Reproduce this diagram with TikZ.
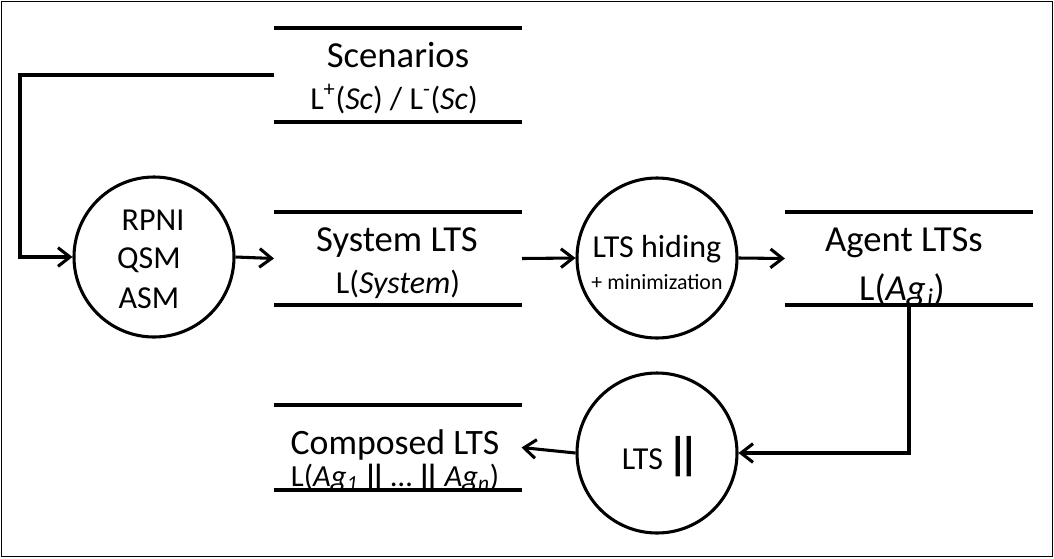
\documentclass[tikz,border=0pt]{standalone}
\usepackage{fontspec}
\setmainfont{Carlito}
\usetikzlibrary{arrows.meta}
\newcommand\fsBig{\fontsize{27.5}{30}\selectfont}
\newcommand\fsComp{\fontsize{26.8}{30}\selectfont}
\newcommand\fsMid{\fontsize{24}{28}\selectfont}
\newcommand\fsCompB{\fontsize{23}{26}\selectfont}
\newcommand\fsSmall{\fontsize{16.4}{19}\selectfont}
\newcommand\bars{|\kern-.22em|}
\begin{document}
\begin{tikzpicture}[x=0.75pt,y=-0.75pt,
  store/.style={draw=none,minimum width=186pt,inner sep=0pt,outer sep=0pt},
  proc/.style={circle,draw,line width=2.3pt,minimum size=120pt,inner sep=0pt},
  sline/.style={line width=3pt},
  flow/.style={line width=2.3pt,-{Straight Barb[length=9pt,width=14pt]}},
  txt/.style={anchor=base,inner sep=0pt,outer sep=0pt}]
\useasboundingbox (0,0) rectangle (1054,558);
\draw[line width=1.2pt] (1.5,1.5) rectangle (1052.5,556.5);
% stores
\node[store,minimum height=70.5pt] (sc) at (398,75) {};
\node[store,minimum height=69.75pt] (sys) at (398,258.5) {};
\node[store,minimum height=69.75pt] (ag) at (909,258.5) {};
\node[store,minimum height=63.75pt] (comp) at (397.5,447.5) {};
\foreach \s in {sc,sys,ag,comp}{
  \draw[sline] (\s.north west) -- (\s.north east);
  \draw[sline] (\s.south west) -- (\s.south east);
}
% store texts
\node[txt,font=\fsBig] (sc1) at (398,67) {Scenarios};
\node[txt,font=\fsMid] (sc2) at (394,109) {L\textsuperscript{+}(\textit{Sc}) / L\textsuperscript{-}(\textit{Sc})};
\node[txt,font=\fsBig] (sys1) at (397,251) {System LTS};
\node[txt,font=\fsMid] (sys2) at (398,293) {L(\textit{System})};
\node[txt,font=\fsBig] (ag1) at (904,251) {Agent LTSs};
\node[txt,font=\fsBig] (ag2) at (902,300) {L(\textit{Ag}\kern1pt\textsubscript{\textit{i}})};
\node[txt,font=\fsComp] (comp1) at (395,454) {Composed LTS};
\node[txt,font=\fsCompB] (comp2) at (395,486) {L(\textit{Ag}\textsubscript{\textit{1}}\,\textbf{\bars}\,…\,\textbf{\bars}\,\textit{Ag}\textsubscript{\textit{n}})};
% processes
\node[proc] (c1) at (154,257) {};
\node[proc] (c2) at (657,258) {};
\node[proc] (c3) at (657,453) {};
\node[txt,font=\fsMid] (r1) at (153,230) {RPNI};
\node[txt,font=\fsMid] (r2) at (149,268) {QSM};
\node[txt,font=\fsMid] (r3) at (149,308) {ASM};
\node[txt,font=\fsMid] (h1) at (657,257) {LTS hiding};
\node[txt,font=\fsSmall] (h2) at (657,289) {+ minimization};
\node[txt,font=\fsMid] (p1) at (661,469) {LTS\kern3pt{\fontsize{34}{34}\selectfont\bfseries\bars}};
% connectors
\coordinate (fb) at (20,0);
\draw[flow] (sc.west) -- (sc.west -| fb) |- (c1.west);
\draw[flow] (c1.east) -- (sys.west);
\draw[flow] (sys.east) -- (c2.west);
\draw[flow] (c2.east) -- (ag.west);
\draw[flow] (ag.south) |- (c3.east);
\draw[flow] (c3.west) -- (comp.east);
\end{tikzpicture}
\end{document}
